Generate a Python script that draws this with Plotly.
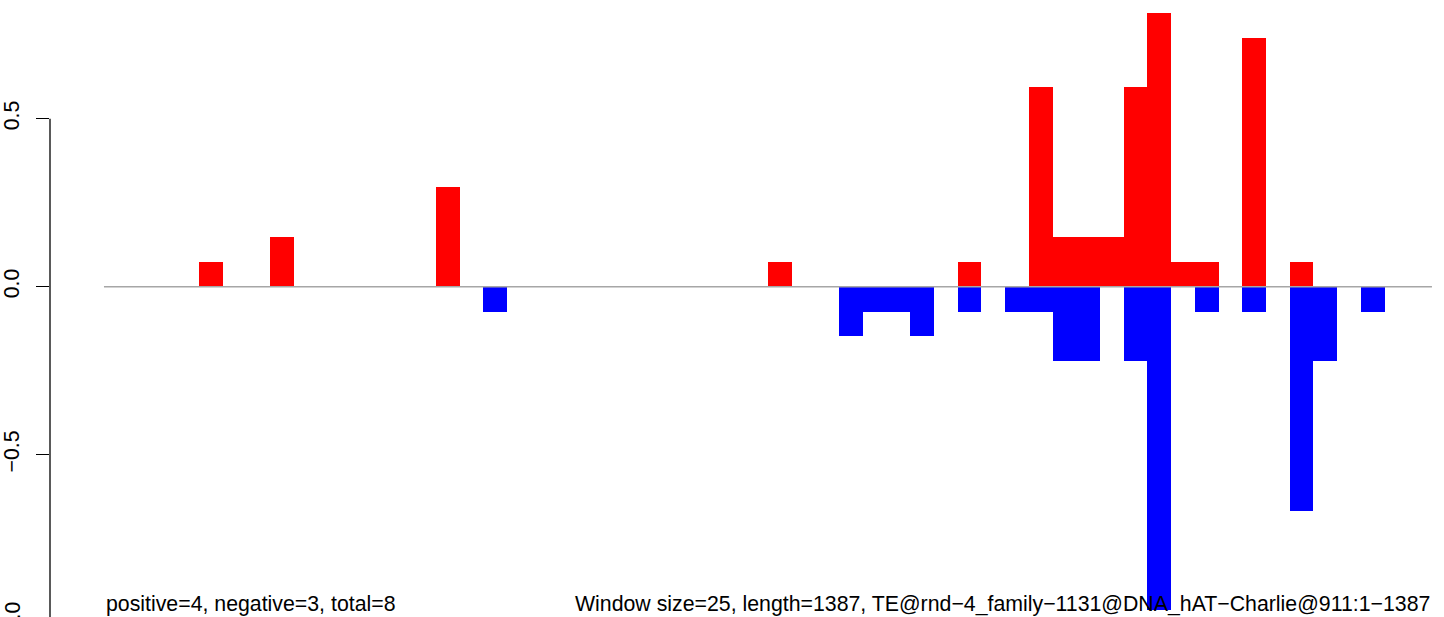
import plotly.graph_objects as go

# ---- data (window start positions along the TE, window size 25) ----
window_size = 25
seq_length = 1387
n_windows_end = 1400

pos_start = [100, 175, 350, 700, 900, 975, 1000, 1025, 1050, 1075, 1100, 1125, 1150, 1200, 1250]
pos_value = [0.074, 0.148, 0.296, 0.074, 0.074, 0.593, 0.148, 0.148, 0.148, 0.593, 0.815, 0.074, 0.074, 0.741, 0.074]

neg_start = [400, 775, 800, 825, 850, 900, 950, 975, 1000, 1025, 1075, 1100, 1150, 1200, 1250, 1275, 1325]
neg_value = [-0.074, -0.148, -0.074, -0.074, -0.148, -0.074, -0.074, -0.074, -0.222, -0.222, -0.222,
             -0.963, -0.074, -0.074, -0.667, -0.222, -0.074]

y_ticks = [0.5, 0.0, -0.5]
y_tick_text = ["0.5", "0.0", "\u22120.5"]
left_label = "positive=4, negative=3, total=8"
right_label = ("Window size=25, length=1387, "
               "TE@rnd\u22124_family\u22121131@DNA_hAT\u2212Charlie@911:1\u22121387")

# ---- layout geometry ----
W, H = 1444, 617
FONT = "Liberation Sans, Arial, sans-serif"
FS = 21.3
x_range = [-56.9, 1412.7]
y_range = [-0.983, 0.8533]

fig = go.Figure()

# zero reference line (under the bars)
fig.add_trace(go.Scatter(x=[0, n_windows_end], y=[0, 0], mode="lines",
                         line=dict(color="#a6a6a6", width=1.5),
                         hoverinfo="skip", showlegend=False))

fig.add_trace(go.Bar(x=[s + window_size / 2 for s in pos_start], y=pos_value,
                     width=window_size, base=0,
                     marker=dict(color="#ff0000", line=dict(width=0)),
                     showlegend=False))
fig.add_trace(go.Bar(x=[s + window_size / 2 for s in neg_start], y=neg_value,
                     width=window_size, base=0,
                     marker=dict(color="#0000ff", line=dict(width=0)),
                     showlegend=False))

def ypaper(v):
    return (v - y_range[0]) / (y_range[1] - y_range[0])

# y axis line from the top tick down past the bottom
fig.add_shape(type="line", xref="paper", yref="paper",
              x0=0, x1=0, y0=ypaper(0.5), y1=ypaper(-1.0),
              line=dict(color="black", width=1.3))
# label of the -1.0 tick (mostly beyond the visible area, as in the original)
fig.add_annotation(xref="paper", yref="paper", x=-37 / (W - 50), y=ypaper(-1.0),
                   text="\u22121.0", textangle=-90, showarrow=False,
                   xanchor="center", yanchor="middle",
                   font=dict(family=FONT, size=FS, color="black"))

fig.add_annotation(xref="x", yref="paper", x=0, y=1 - 604 / H,
                   text=left_label, showarrow=False, xanchor="left", yanchor="middle",
                   font=dict(family=FONT, size=FS, color="black"))
fig.add_annotation(xref="x", yref="paper", x=n_windows_end, y=1 - 604 / H,
                   text=right_label, showarrow=False, xanchor="right", yanchor="middle",
                   font=dict(family=FONT, size=FS, color="black"))

fig.update_layout(
    width=W, height=H,
    margin=dict(l=50, r=0, t=0, b=0, autoexpand=False),
    paper_bgcolor="white", plot_bgcolor="white",
    barmode="overlay", bargap=0,
    font=dict(family=FONT, size=FS, color="black"),
    xaxis=dict(range=x_range, visible=False, fixedrange=True, automargin=False),
    yaxis=dict(range=y_range, showgrid=False, zeroline=False, showline=False,
               automargin=False,
               ticks="outside", ticklen=13, tickwidth=1.3, tickcolor="black",
               tickvals=y_ticks, ticktext=y_tick_text, tickangle=-90,
               ticklabelstandoff=8,
               tickfont=dict(family=FONT, size=FS, color="black"),
               fixedrange=True),
)

fig.write_html("out.html",
               config={"displayModeBar": False},
               post_script="document.body.style.margin='0';"
                           "document.body.style.overflow='hidden';")
